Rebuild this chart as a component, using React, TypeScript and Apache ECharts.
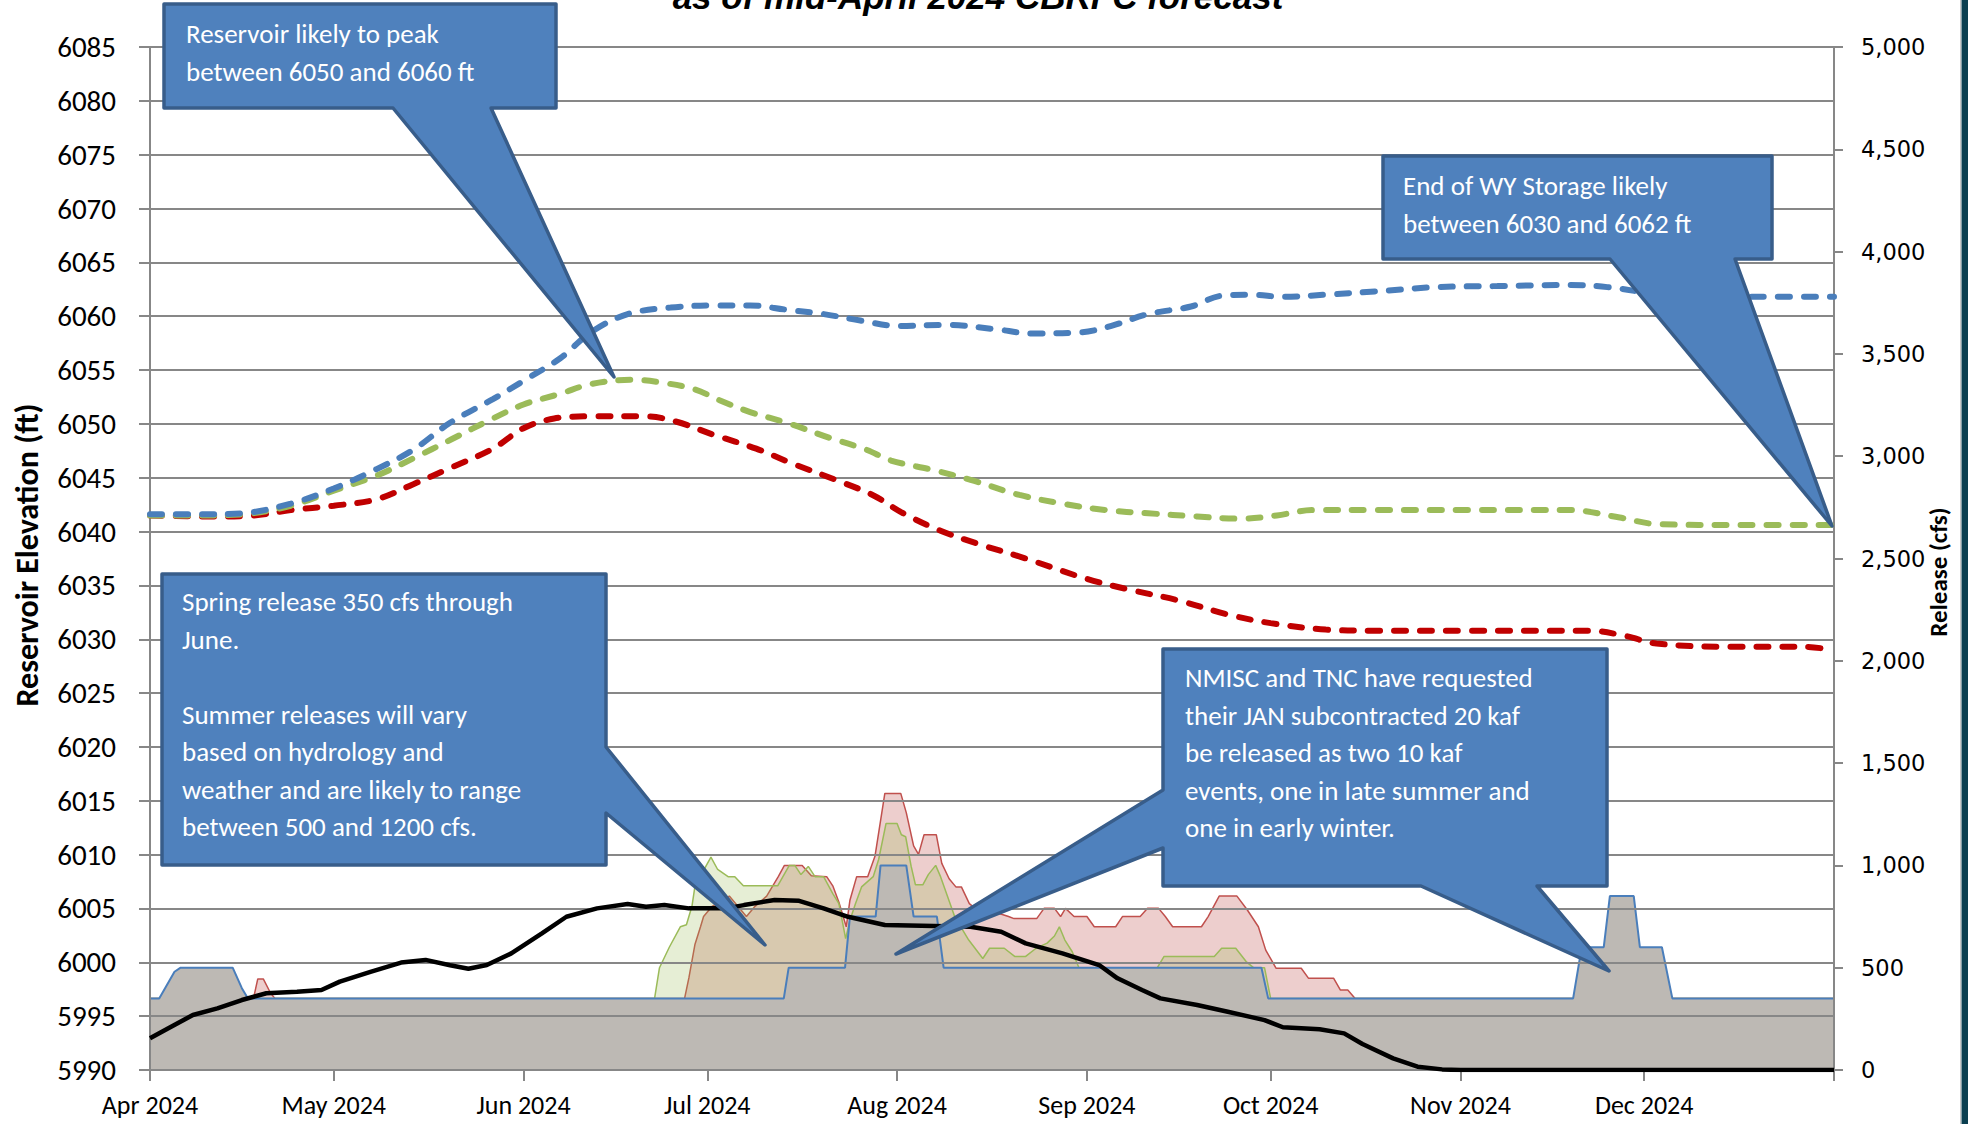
import React, { useEffect, useRef } from "react";
import * as echarts from "echarts";

// ---- X axis: day index, 0 = 1 Apr 2024 ----
const MONTH_STARTS = [0, 30, 61, 91, 122, 153, 183, 214, 244];
const MONTH_LABELS = ["Apr 2024", "May 2024", "Jun 2024", "Jul 2024", "Aug 2024", "Sep 2024", "Oct 2024", "Nov 2024", "Dec 2024"];
const X_MAX = 275;

// ---- Reservoir elevation forecasts (ft), [day, elevation] ----
const elevHigh: [number, number][] = [
  [0, 6041.6], [8, 6041.6], [15, 6041.7], [23, 6042.6], [30, 6044.0], [37, 6045.8], [43, 6047.6], [49, 6050.1],
  [56, 6052.3], [61, 6054.0], [67, 6056.1], [72, 6058.5], [78, 6060.2], [85, 6060.8], [92, 6061.0], [98, 6061.0],
  [104, 6060.6], [110, 6060.2], [116, 6059.6], [122, 6059.1], [130, 6059.2], [138, 6058.8], [144, 6058.4],
  [152, 6058.5], [157, 6059.1], [163, 6060.2], [170, 6060.9], [175, 6061.9], [180, 6062.0], [185, 6061.8],
  [192, 6062.0], [200, 6062.3], [210, 6062.7], [220, 6062.8], [232, 6062.9], [238, 6062.7], [244, 6062.2],
  [248, 6061.8], [260, 6061.8], [275, 6061.8],
];
const elevMost: [number, number][] = [
  [0, 6041.5], [8, 6041.5], [15, 6041.6], [23, 6042.4], [30, 6043.8], [37, 6045.2], [43, 6046.8], [49, 6048.5],
  [56, 6050.5], [61, 6051.8], [67, 6052.8], [72, 6053.7], [79, 6054.1], [84, 6053.8], [89, 6053.2], [93, 6052.2],
  [98, 6051.1], [104, 6050.1], [111, 6048.7], [117, 6047.6], [121, 6046.6], [128, 6045.7], [134, 6044.8],
  [142, 6043.4], [149, 6042.6], [156, 6042.0], [163, 6041.7], [171, 6041.4], [178, 6041.2], [184, 6041.5],
  [190, 6042.0], [200, 6042.0], [215, 6042.0], [232, 6042.0], [240, 6041.3], [246, 6040.7], [260, 6040.6],
  [275, 6040.6],
];
const elevLow: [number, number][] = [
  [0, 6041.5], [10, 6041.4], [17, 6041.5], [23, 6042.0], [30, 6042.4], [37, 6043.0], [43, 6044.4], [49, 6045.9],
  [56, 6047.7], [61, 6049.6], [66, 6050.5], [72, 6050.7], [81, 6050.7], [86, 6050.2], [92, 6049.0], [99, 6047.7],
  [105, 6046.3], [112, 6044.8], [118, 6043.4], [123, 6041.7], [129, 6040.1], [135, 6038.9], [143, 6037.5],
  [153, 6035.6], [160, 6034.6], [168, 6033.6], [176, 6032.3], [183, 6031.5], [192, 6030.9], [200, 6030.8],
  [215, 6030.8], [235, 6030.8], [241, 6030.3], [246, 6029.6], [258, 6029.3], [270, 6029.3], [275, 6029.0],
];

// ---- Black trace (right axis, cfs) ----
const blackTrace: [number, number][] = [
  [0, 155], [3, 204], [7, 269], [11, 301], [15, 342], [19, 375], [24, 383], [28, 391], [31, 432], [36, 480],
  [41, 525], [45, 538], [49, 512], [52, 495], [55, 513], [59, 570], [64, 668], [68, 749], [73, 790], [78, 811],
  [81, 798], [84, 806], [88, 790], [94, 790], [97, 806], [102, 831], [106, 827], [110, 790], [114, 749],
  [120, 709], [128, 704], [134, 700], [139, 676], [143, 619], [149, 570], [155, 513], [158, 448], [162, 391],
  [165, 350], [171, 318], [176, 285], [182, 244], [185, 209], [191, 199], [195, 179], [198, 127], [203, 57],
  [207, 16], [211, 3], [214, 0], [275, 0],
];

// ---- Releases (right axis, cfs) ----
const releaseBase: [number, number][] = [
  [0, 350], [1.5, 350], [4, 480], [5, 500], [13.5, 500], [15, 400], [16, 350], [103.5, 350], [104.3, 500],
  [113.5, 500], [114.3, 750], [118.5, 750], [119.3, 1000], [123.5, 1000], [124.7, 750], [128.5, 750],
  [129.6, 500], [181.5, 500], [182.6, 350], [232.4, 350], [233.8, 600], [237.4, 600], [238.4, 850],
  [242.3, 850], [243.3, 600], [246.9, 600], [248.6, 350], [275, 350],
];
const releaseMost: [number, number][] = [
  [0, 350], [82.4, 350], [83.2, 500], [84.8, 600], [86.6, 700], [87.6, 710], [88.5, 800], [89, 900],
  [91.6, 1040], [92.7, 980], [94.4, 945], [95.5, 945], [96.9, 900], [102.5, 900], [104.4, 1000], [105.3, 1000],
  [106.3, 955], [107.5, 995], [108.6, 945], [110, 945], [111.5, 862], [112.5, 813], [113.6, 642], [114.3, 732],
  [115.2, 813], [116.2, 895], [118.1, 945], [119, 1030], [120.2, 1205], [122, 1205], [122.7, 1150],
  [123.4, 1140], [124.3, 995], [125, 905], [126.2, 905], [127.1, 955], [128.3, 1000], [129.1, 945],
  [131.4, 750], [133.7, 635], [136, 545], [137.1, 595], [139.5, 595], [141.2, 555], [143, 555], [144.7, 595],
  [146.5, 620], [147.7, 655], [148.5, 700], [149.4, 635], [150.6, 578], [151.7, 500], [164.5, 500],
  [165.6, 555], [173.8, 555], [175, 595], [177.3, 595], [179, 530], [180.2, 500], [182, 500], [183, 350],
  [275, 350],
];
const releaseHigh: [number, number][] = [
  [0, 350], [16.9, 350], [17.6, 445], [18.5, 445], [19.7, 375], [20.4, 350], [87.3, 350], [88, 450], [89, 615],
  [89.9, 700], [90.4, 750], [91.8, 800], [94.6, 850], [96, 800], [97.4, 750], [98.8, 800], [100.7, 850],
  [102.6, 945], [103.6, 1000], [106.5, 1000], [108, 950], [110.5, 945], [111.5, 900], [112.5, 820],
  [113.7, 700], [114.3, 830], [115.4, 945], [117.2, 945], [118.4, 1046], [120, 1352], [122.6, 1352],
  [123.5, 1258], [124.7, 1095], [125.5, 1054], [126.4, 1150], [128.4, 1150], [129.3, 1010], [130.5, 935],
  [131.6, 895], [132.5, 895], [133.8, 813], [135.5, 772], [137.9, 772], [140.2, 750], [141.1, 740],
  [144.8, 740], [146, 790], [147.7, 790], [148.7, 750], [149.5, 790], [150.9, 750], [153, 750], [154.2, 700],
  [157.7, 700], [158.8, 750], [161.7, 750], [162.9, 790], [164.7, 790], [165.8, 750], [167, 700], [171.7, 700],
  [172.8, 750], [174.6, 850], [177.5, 850], [179.2, 782], [181, 700], [182.2, 586], [183.9, 497], [188, 497],
  [189.2, 448], [193.3, 448], [194.4, 391], [195.6, 391], [196.8, 350], [275, 350],
];

// ---- Texts ----
const TITLE = "as of mid-April 2024 CBRFC forecast";
const LEFT_TITLE = "Reservoir Elevation (ft)";
const RIGHT_TITLE = "Release (cfs)";
const NOTE_PEAK = ["Reservoir likely to peak", "between 6050 and 6060 ft"];
const NOTE_END = ["End of WY Storage likely", "between 6030 and 6062 ft"];
const NOTE_SPRING = [
  "Spring release 350 cfs through", "June.", "", "Summer releases will vary", "based on hydrology and",
  "weather and are likely to range", "between 500 and 1200 cfs.",
];
const NOTE_NMISC = [
  "NMISC and TNC have requested", "their JAN subcontracted 20 kaf", "be released as two 10 kaf",
  "events, one in late summer and", "one in early winter.",
];

const SANS = "Calibri, Carlito, Lato, sans-serif";
const GRID_GRAY = "#878787";
const BOX_FILL = "#4F81BD";
const BOX_STROKE = "#385D8A";

function callout(points: number[][]) {
  return {
    type: "polygon",
    z: 100,
    shape: { points },
    style: { fill: BOX_FILL, stroke: BOX_STROKE, lineWidth: 3.5, lineJoin: "round" },
  };
}
function calloutText(lines: string[], x: number, y: number) {
  return {
    type: "text",
    z: 101,
    x,
    y,
    style: {
      text: lines.join("\n"),
      fill: "#ffffff",
      fontSize: 27,
      fontFamily: SANS,
      lineHeight: 37.5,
      align: "left",
      verticalAlign: "top",
    },
  };
}

export default function App() {
  const ref = useRef<HTMLDivElement>(null);
  useEffect(() => {
    const chart = echarts.init(ref.current!, null, { renderer: "svg" });
    const elevLine = (data: [number, number][], color: string) => ({
      type: "line",
      yAxisIndex: 0,
      data,
      smooth: 0.35,
      symbol: "none",
      z: 6,
      silent: true,
      lineStyle: { color, width: 6, type: [12, 14], cap: "round" },
    });
    const releaseArea = (data: [number, number][], line: string, fill: string, width: number, z: number) => ({
      type: "line",
      yAxisIndex: 1,
      data,
      symbol: "none",
      z,
      silent: true,
      lineStyle: { color: line, width },
      areaStyle: { color: fill, opacity: 1 },
    });
    const option: any = {
      animation: false,
      backgroundColor: "#ffffff",
      grid: { left: 150, right: 134, top: 47, bottom: 54, containLabel: false },
      xAxis: {
        type: "value",
        min: 0,
        max: X_MAX,
        z: 4,
        axisLine: { show: true, onZero: false, lineStyle: { color: GRID_GRAY, width: 2 } },
        axisTick: {
          show: true,
          customValues: [...MONTH_STARTS, X_MAX],
          length: 11,
          lineStyle: { color: GRID_GRAY, width: 2 },
        },
        axisLabel: {
          customValues: MONTH_STARTS,
          formatter: (v: number) => {
            const i = MONTH_STARTS.indexOf(Math.round(v));
            return i >= 0 ? MONTH_LABELS[i] : "";
          },
          fontSize: 26,
          fontFamily: SANS,
          color: "#000",
          margin: 22,
        },
        splitLine: { show: false },
      },
      yAxis: [
        {
          type: "value",
          position: "left",
          min: 5990,
          max: 6085,
          interval: 5,
          z: 4,
          axisLine: { show: true, lineStyle: { color: GRID_GRAY, width: 2 } },
          axisTick: { show: true, length: 11, lineStyle: { color: GRID_GRAY, width: 2 } },
          axisLabel: {
            fontSize: 29,
            fontFamily: SANS,
            color: "#000",
            margin: 34,
            formatter: (v: number) => String(v),
          },
          splitLine: { show: true, lineStyle: { color: GRID_GRAY, width: 2 } },
        },
        {
          type: "value",
          position: "right",
          min: 0,
          max: 5000,
          interval: 500,
          z: 4,
          axisLine: { show: true, lineStyle: { color: GRID_GRAY, width: 2 } },
          axisTick: { show: true, length: 9, lineStyle: { color: GRID_GRAY, width: 2 } },
          axisLabel: {
            fontSize: 22.5,
            fontFamily: "Verdana, 'DejaVu Sans', sans-serif",
            color: "#000",
            margin: 27,
            formatter: (v: number) => v.toLocaleString("en-US"),
          },
          splitLine: { show: false },
        },
      ],
      series: [
        releaseArea(releaseHigh, "#C0504D", "rgba(192,80,77,0.28)", 1.5, 1),
        releaseArea(releaseMost, "#9BBB59", "rgba(155,187,89,0.25)", 1.5, 2),
        releaseArea(releaseBase, "#4A7EBB", "#BDB9B4", 2, 3),
        {
          type: "line",
          yAxisIndex: 1,
          data: blackTrace,
          symbol: "none",
          z: 6,
          silent: true,
          lineStyle: { color: "#000000", width: 4.5 },
        },
        elevLine(elevLow, "#C00000"),
        elevLine(elevMost, "#9BBB59"),
        elevLine(elevHigh, "#4A7EBB"),
      ],
      graphic: [
        {
          type: "text",
          z: 90,
          x: 978,
          y: -4,
          style: {
            text: TITLE,
            fill: "#000",
            fontSize: 35,
            fontWeight: "bold",
            fontStyle: "italic",
            fontFamily: "Arial, 'Liberation Sans', sans-serif",
            align: "center",
            verticalAlign: "middle",
          },
        },
        {
          type: "text",
          z: 90,
          x: 27,
          y: 555,
          rotation: Math.PI / 2,
          style: {
            text: LEFT_TITLE,
            fill: "#000",
            fontSize: 32,
            fontWeight: "bold",
            fontFamily: SANS,
            align: "center",
            verticalAlign: "middle",
          },
        },
        {
          type: "text",
          z: 90,
          x: 1938,
          y: 572,
          rotation: Math.PI / 2,
          style: {
            text: RIGHT_TITLE,
            fill: "#000",
            fontSize: 25,
            fontWeight: "bold",
            fontFamily: SANS,
            align: "center",
            verticalAlign: "middle",
          },
        },
        { type: "rect", z: 90, shape: { x: 1960, y: 0, width: 1, height: 1124 }, style: { fill: "#c8c8c8" } },
        { type: "rect", z: 90, shape: { x: 1961.5, y: 0, width: 7, height: 1124 }, style: { fill: "#0B3F50" } },
        callout([[164, 4], [556, 4], [556, 108], [491, 108], [614, 377], [393, 108], [164, 108]]),
        calloutText(NOTE_PEAK, 186, 15),
        callout([[1383, 156], [1772, 156], [1772, 259], [1735, 259], [1832, 526], [1610, 259], [1383, 259]]),
        calloutText(NOTE_END, 1403, 167),
        callout([[162, 574], [606, 574], [606, 747], [765, 945], [606, 813], [606, 865], [162, 865]]),
        calloutText(NOTE_SPRING, 182, 583),
        callout([
          [1163, 649], [1607, 649], [1607, 886], [1537, 886], [1609, 971], [1421, 886], [1163, 886],
          [1163, 848], [896, 954], [1163, 790],
        ]),
        calloutText(NOTE_NMISC, 1185, 659),
      ],
    };
    chart.setOption(option);
    return () => chart.dispose();
  }, []);
  return (
    <div
      ref={ref}
      style={{ position: "fixed", left: 0, top: 0, width: 1968, height: 1124, background: "#fff" }}
    />
  );
}
